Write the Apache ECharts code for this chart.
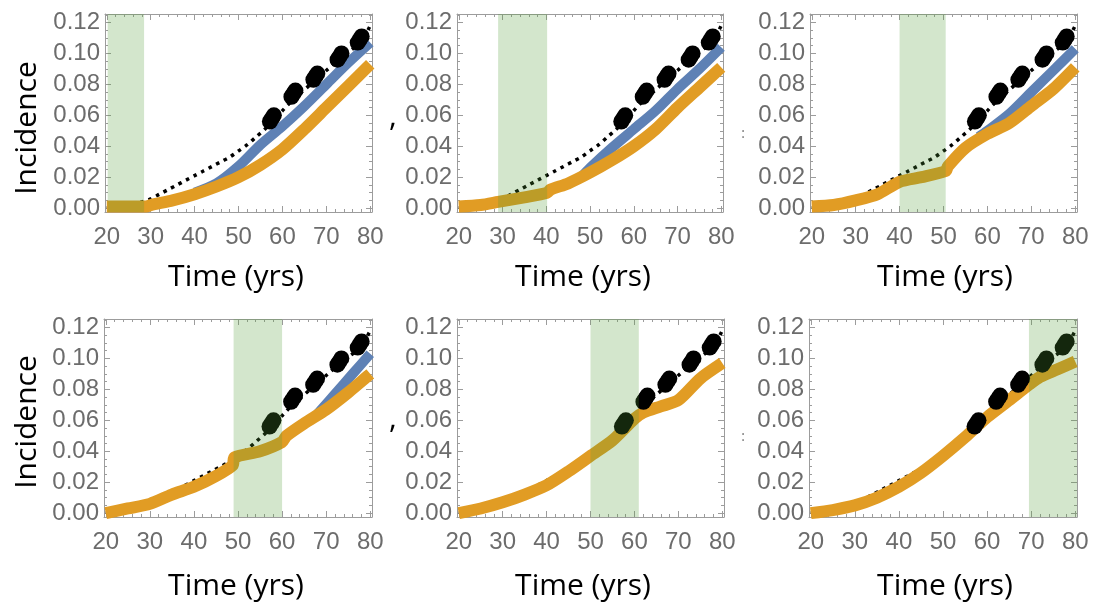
<!DOCTYPE html>
<html><head><meta charset="utf-8">
<script src="https://cdn.jsdelivr.net/npm/echarts@6/dist/echarts.min.js"></script>
<style>html,body{margin:0;padding:0;background:#fff}#c{width:1104px;height:608px}</style>
</head><body><div id="c"></div>
<script>
// ---- tick labels ----
const xTickLabels = [20, 30, 40, 50, 60, 70, 80];
const yTickLabels = [0, 0.02, 0.04, 0.06, 0.08, 0.10, 0.12];
const xMinorTicks = [20,22,24,26,28,30,32,34,36,38,40,42,44,46,48,50,52,54,56,58,60,62,64,66,68,70,72,74,76,78,80];
const yMinorTicks = [0,0.005,0.01,0.015,0.02,0.025,0.03,0.035,0.04,0.045,0.05,0.055,0.06,0.065,0.07,0.075,0.08,0.085,0.09,0.095,0.1,0.105,0.11,0.115,0.12,0.125];

// ---- shared data: model without intervention (dotted) and observed data (big dots) ----
const blackAges = [20,22,24,26,28,30,32,34,36,38,40,42,44,46,48,50,52,54,56,58,60,62,64,66,68,70,72,74,76,78,80];
const blackVals = [0.000,0.001,0.002,0.003,0.004,0.006,0.009,0.012,0.015,0.018,0.021,0.024,0.027,0.030,0.033,0.037,0.041,0.046,0.051,0.057,0.063,0.069,0.074,0.079,0.084,0.089,0.094,0.099,0.103,0.108,0.118];
const dotAges = [57.15,57.6,58.05, 62.05,62.5,62.95, 67.05,67.5,67.95, 72.55,73.0,73.45, 77.15,77.6,78.05];
const dotVals = [0.0560,0.0580,0.0600, 0.0720,0.0740,0.0760, 0.0830,0.0850,0.0870, 0.0960,0.0980,0.1000, 0.1070,0.1090,0.1110];

// ---- intervention windows (green bands) ----
const bands = [[20.2,28.5],[29,40.2],[40,50.5],[49,60],[50,61],[69.5,81]];

// ---- orange (intervention) curves ----
const orangeAges1 = [20,25,29,30,35,40,45,50,55,60,65,70,75,80];
const orangeVals1 = [0.001,0.001,0.001,0.002,0.005,0.009,0.014,0.020,0.028,0.038,0.051,0.065,0.079,0.093];
const orangeAges2 = [20,25,29,35,40.2,41,45,50,55,60,65,70,75,80];
const orangeVals2 = [0.001,0.002,0.004,0.007,0.010,0.012,0.016,0.023,0.031,0.040,0.051,0.065,0.078,0.091];
const orangeAges3 = [20,25,30,35,40,45,50.5,51,55,60,65,70,75,80];
const orangeVals3 = [0.001,0.002,0.005,0.009,0.017,0.020,0.024,0.027,0.039,0.048,0.055,0.066,0.077,0.091];
const orangeAges4 = [20,25,30,35,40,45,48.8,49.2,55,60,61,65,70,75,80];
const orangeVals4 = [0.000,0.003,0.006,0.012,0.017,0.024,0.031,0.036,0.040,0.046,0.050,0.058,0.067,0.078,0.090];
const orangeAges5 = [20,25,30,35,40,45,50,55,60,62,66,70,75,80];
const orangeVals5 = [0.000,0.003,0.007,0.012,0.018,0.027,0.037,0.047,0.061,0.065,0.069,0.073,0.087,0.097];
const orangeAges6 = [20,25,30,35,40,45,50,55,60,65,69.5,72,76,80];
const orangeVals6 = [0.000,0.002,0.005,0.010,0.017,0.026,0.037,0.049,0.062,0.073,0.083,0.088,0.093,0.098];

// ---- blue curves ----
const blueAges1 = [40,45,50,55,60,65,70,75,80];
const blueVals1 = [0.010,0.016,0.027,0.041,0.053,0.066,0.080,0.094,0.107];
const blueAges2 = [48,50,55,60,65,70,75,80];
const blueVals2 = [0.020,0.026,0.039,0.051,0.063,0.077,0.090,0.104];
const blueAges3 = [58,60,65,70,75,80];
const blueVals3 = [0.046,0.050,0.061,0.075,0.089,0.103];
const blueAges4 = [68,72,76,80];
const blueVals4 = [0.064,0.077,0.090,0.103];

const orangeSets = [[orangeAges1,orangeVals1],[orangeAges2,orangeVals2],[orangeAges3,orangeVals3],[orangeAges4,orangeVals4],[orangeAges5,orangeVals5],[orangeAges6,orangeVals6]];
const blueSets = [[blueAges1,blueVals1],[blueAges2,blueVals2],[blueAges3,blueVals3],[blueAges4,blueVals4],null,null];

// ---- layout ----
const grids = [
  {left:105, top:14, width:267, height:198},
  {left:457, top:14, width:266, height:198},
  {left:810, top:14, width:267, height:198},
  {left:104, top:319, width:268, height:198},
  {left:457, top:319, width:267, height:198},
  {left:809, top:319, width:268, height:198}
];
const timeLabelPos = [[236,277],[583,277],[945,277],[236,586],[583,586],[945,586]];

const zip = (a, b) => a.map((v, i) => [v, b[i]]);
const frameColor = '#9c9c9c';
const tickFont = {fontSize:24, color:'#6c6c6c', fontFamily:'Liberation Sans'};

const xAxes = [], yAxes = [], series = [];
grids.forEach((g, i) => {
  const mkX = (pos, major, labels) => ({
    type:'value', gridIndex:i, position:pos, min:19.6, max:80.4,
    axisLine:{show:major, onZero:false, lineStyle:{color:frameColor, width:1}},
    axisTick:{show:true, inside:true, length: major ? 6 : 3, customValues: major ? xTickLabels : xMinorTicks, lineStyle:{color:frameColor}},
    axisLabel: Object.assign({show:labels, customValues:xTickLabels, margin:13}, tickFont),
    splitLine:{show:false}
  });
  const mkY = (pos, major, labels) => ({
    type:'value', gridIndex:i, position:pos, min:-0.0025, max:0.1255,
    axisLine:{show:major, onZero:false, lineStyle:{color:frameColor, width:1}},
    axisTick:{show:true, inside:true, length: major ? 6 : 3, customValues: major ? yTickLabels : yMinorTicks, lineStyle:{color:frameColor}},
    axisLabel: Object.assign({show:labels, customValues:yTickLabels, margin:5, formatter:(v)=>v.toFixed(2)}, tickFont),
    splitLine:{show:false}
  });
  xAxes.push(mkX('bottom', true, true), mkX('bottom', false, false), mkX('top', true, false), mkX('top', false, false));
  yAxes.push(mkY('left', true, true), mkY('left', false, false), mkY('right', true, false), mkY('right', false, false));
  const ax = {xAxisIndex:4*i, yAxisIndex:4*i};
  if (blueSets[i]) {
    series.push(Object.assign({type:'line', data:zip(blueSets[i][0], blueSets[i][1]), showSymbol:false, smooth:0.3, z:2,
      lineStyle:{color:'#5e81b5', width:10, cap:'butt'}, silent:true}, ax));
  }
  series.push(Object.assign({type:'line', data:zip(blackAges, blackVals), showSymbol:false, smooth:0.3, z:3,
    lineStyle:{color:'#000', width:3.5, type:[3.5,5], cap:'butt'}, silent:true}, ax));
  series.push(Object.assign({type:'line', data:zip(orangeSets[i][0], orangeSets[i][1]), showSymbol:false, smooth:0.25, z:4,
    lineStyle:{color:'#e19c24', width:12, cap:'butt', join:'miter'}, silent:true}, ax));
  series.push(Object.assign({type:'scatter', data:zip(dotAges, dotVals), symbol:'circle', symbolSize:16, z:5,
    itemStyle:{color:'#000', opacity:1}, silent:true}, ax));
  series.push(Object.assign({type:'custom', data:[bands[i]], z:10, silent:true,
    renderItem:(params, api) => {
      const cs = params.coordSys;
      const x0 = Math.max(api.coord([api.value(0), 0])[0], cs.x);
      const x1 = Math.min(api.coord([api.value(1), 0])[0], cs.x + cs.width);
      return {type:'rect', shape:{x:x0, y:cs.y, width:x1 - x0, height:cs.height}, style:{fill:'rgba(80,156,52,0.25)'}};
    }}, ax));
});

const labelFont = '30px "Open Sans"';
const graphics = [];
[[27,128],[27,422]].forEach(p => graphics.push({type:'text', x:p[0], y:p[1], rotation:Math.PI/2,
  style:{text:'Incidence', font:labelFont, fill:'#000', align:'center', verticalAlign:'middle'}}));
timeLabelPos.forEach(p => graphics.push({type:'text', x:p[0], y:p[1],
  style:{text:'Time (yrs)', font:labelFont, fill:'#000', align:'center', verticalAlign:'middle'}}));
[[393,117],[393,419]].forEach(p => graphics.push({type:'text', x:p[0], y:p[1],
  style:{text:',', font:labelFont, fill:'#000', align:'center', verticalAlign:'middle'}}));
[[743,134],[743,437]].forEach(p => graphics.push({type:'text', x:p[0], y:p[1],
  style:{text:':', font:'14px "Open Sans"', fill:'#777', align:'center', verticalAlign:'middle'}}));

const chart = echarts.init(document.getElementById('c'), null, {renderer:'canvas'});
chart.setOption({
  animation:false,
  backgroundColor:'#fff',
  grid: grids,
  xAxis: xAxes,
  yAxis: yAxes,
  series: series,
  graphic: graphics
});
</script>
</body></html>
